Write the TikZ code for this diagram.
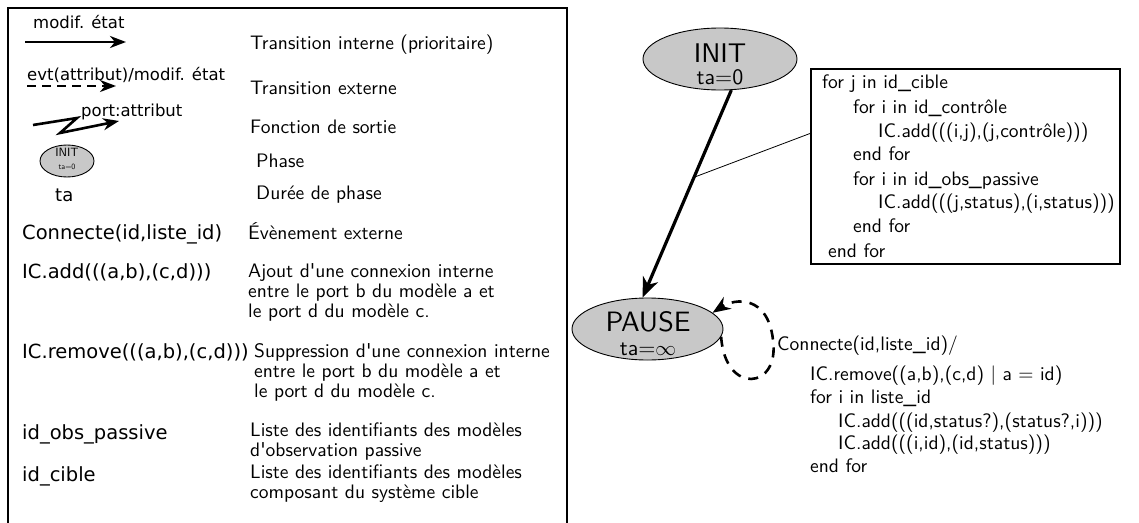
\documentclass[tikz,border=0pt]{standalone}
\usepackage{fontspec}
\newfontfamily\dejavu{DejaVu Sans}
\newfontfamily\lmss{lmsans10-regular.otf}
\usetikzlibrary{arrows.meta,shapes.geometric}
\definecolor{phasegray}{RGB}{200,200,200}
\tikzset{
  lm/.style={font=\fontsize{19.5}{22}\selectfont\lmss, inner sep=0pt, anchor=base west},
  lmd/.style={font=\fontsize{19.5}{22}\selectfont\lmss, inner sep=0pt, anchor=base west},
  dv/.style={font=\fontsize{19.5}{22}\selectfont\dejavu, inner sep=0pt, anchor=base west},
  dvs/.style={font=\fontsize{16.5}{20}\selectfont\dejavu, inner sep=0pt, anchor=base west},
  phase/.style={ellipse, draw, fill=phasegray, line width=0.9pt, inner sep=0pt},
  ctext/.style={inner sep=0pt, anchor=base},
  trans/.style={line width=3.2pt, -{Stealth[length=20pt,width=16pt,inset=6pt]}},
  legarrow/.style={line width=2.6pt, -{Stealth[length=16pt,width=12pt,inset=5pt]}},
  legdash/.style={line width=2.4pt, dash pattern=on 9pt off 6pt, -{Stealth[length=16pt,width=12pt,inset=5pt]}},
  extloop/.style={line width=2.6pt, dash pattern=on 10pt off 8pt, -{Stealth[length=18pt,width=14pt,inset=6pt]}},
}
\begin{document}
\begin{tikzpicture}[x=1pt,y=-1pt]
\useasboundingbox (0,0) rectangle (1139,522);
% legend frame
\draw[line width=1.8pt] (8,523) -- (8,8) -- (567,8) -- (567,523);
% row 1
\node[dvs] (l1) at (33,28) {modif. état};
\coordinate (a1s) at (25,42);
\coordinate (a1e) at (126,42);
\draw[legarrow] (a1s) -- (a1e);
\node[lm] (r1) at (250,49) {Transition interne (prioritaire)};
% row 2
\node[dvs] (l2) at (27,80) {evt(attribut)/modif. état};
\coordinate (a2s) at (27,86);
\coordinate (a2e) at (116,86);
\draw[legdash] (a2s) -- (a2e);
\node[lm] (r2) at (250,94) {Transition externe};
% row 3
\node[dvs] (l3) at (81,116) {port:attribut};
\coordinate (z0) at (33,125);
\coordinate (z1) at (77,118);
\coordinate (z2) at (60,133);
\coordinate (z3) at (119,121);
\draw[legarrow, line join=miter] (z0) -- (z1) -- (z2) -- (z3);
\node[lm] (r3) at (250,133) {Fonction de sortie};
% row 4
\node[phase, minimum width=54pt, minimum height=32pt] (sphase) at (67,161) {};
\node[ctext, font=\fontsize{12}{12}\selectfont\lmss] (sinit) at (67,156) {INIT};
\node[ctext, font=\fontsize{8}{8}\selectfont\lmss] (sta) at (67,169) {ta=0};
\node[lm] (r4) at (256,167) {Phase};
% row 5
\node[dv, font=\fontsize{18}{20}\selectfont\dejavu] (l5) at (55,201) {ta};
\node[lm] (r5) at (256,199) {Durée de phase};
% row 6
\node[dv] (l6) at (22,239) {Connecte(id,liste\_id)};
\node[lm] (r6) at (248,239) {Évènement externe};
% row 7
\node[dv] (l7) at (22,278) {IC.add(((a,b),(c,d)))};
\node[lm] (r7a) at (248,277) {Ajout d'une connexion interne};
\node[lm] (r7b) at (248,297) {entre le port b du modèle a et};
\node[lm] (r7c) at (248,317) {le port d du modèle c.};
% row 8
\node[dv] (l8) at (22,358) {IC.remove(((a,b),(c,d)))};
\node[lm] (r8a) at (254,357) {Suppression d'une connexion interne};
\node[lm] (r8b) at (254,377) {entre le port b du modèle a et};
\node[lm] (r8c) at (254,397) {le port d du modèle c.};
% row 9
\node[dv] (l9) at (22,439) {id\_obs\_passive};
\node[lm] (r9a) at (250,436) {Liste des identifiants des modèles};
\node[lm] (r9b) at (250,456) {d'observation passive};
% row 10
\node[dv] (l10) at (22,481) {id\_cible};
\node[lm] (r10a) at (250,478) {Liste des identifiants des modèles};
\node[lm] (r10b) at (250,498) {composant du système cible};

% ---------- state diagram ----------
\node[phase, minimum width=154pt, minimum height=62pt] (init) at (720,59) {};
\node[ctext, font=\fontsize{27}{27}\selectfont\lmss] (initT) at (720,62) {INIT};
\node[ctext, font=\fontsize{22}{22}\selectfont\lmss] (initTa) at (720,84) {ta=0};
\node[phase, minimum width=151pt, minimum height=62pt] (pause) at (647.5,329) {};
\node[ctext, font=\fontsize{28}{28}\selectfont\lmss] (pauseT) at (648,331) {PAUSE};
\node[ctext, font=\fontsize{22}{22}\selectfont\lmss] (pauseTa) at (648,355) {ta=$\infty$};

\draw[trans] (init.-70) -- coordinate[pos=0.42] (mid) (pause.99);

\node[draw, line width=1.3pt, minimum width=309pt, minimum height=195pt, inner sep=0pt] (code) at (965.5,166.5) {};
\draw[line width=0.8pt] (mid) -- ([yshift=-65pt]code.north west);
\node[lmd] (c1) at (822,88) {for j in id\_cible};
\node[lmd] (c2) at (853,113) {for i in id\_contrôle};
\node[lmd] (c3) at (878,137) {IC.add(((i,j),(j,contrôle)))};
\node[lmd] (c4) at (853,160) {end for};
\node[lmd] (c5) at (853,185) {for i in id\_obs\_passive};
\node[lmd] (c6) at (878,208) {IC.add(((j,status),(i,status)))};
\node[lmd] (c7) at (853,232) {end for};
\node[lmd] (c8) at (828,257) {end for};

\draw[extloop] (pause.-6) .. controls (725,395) and (780,390) .. (773,340)
  .. controls (768,295) and (735,298) .. (pause.14);

\node[lmd] (e1) at (777,350) {Connecte(id,liste\_id)/};
\node[lmd] (e2) at (810,380) {IC.remove((a,b),(c,d) | a = id)};
\node[lmd] (e3) at (810,403) {for i in liste\_id};
\node[lmd] (e4) at (838,427) {IC.add(((id,status?),(status?,i)))};
\node[lmd] (e5) at (838,449) {IC.add(((i,id),(id,status)))};
\node[lmd] (e6) at (810,472) {end for};
\end{tikzpicture}
\end{document}
